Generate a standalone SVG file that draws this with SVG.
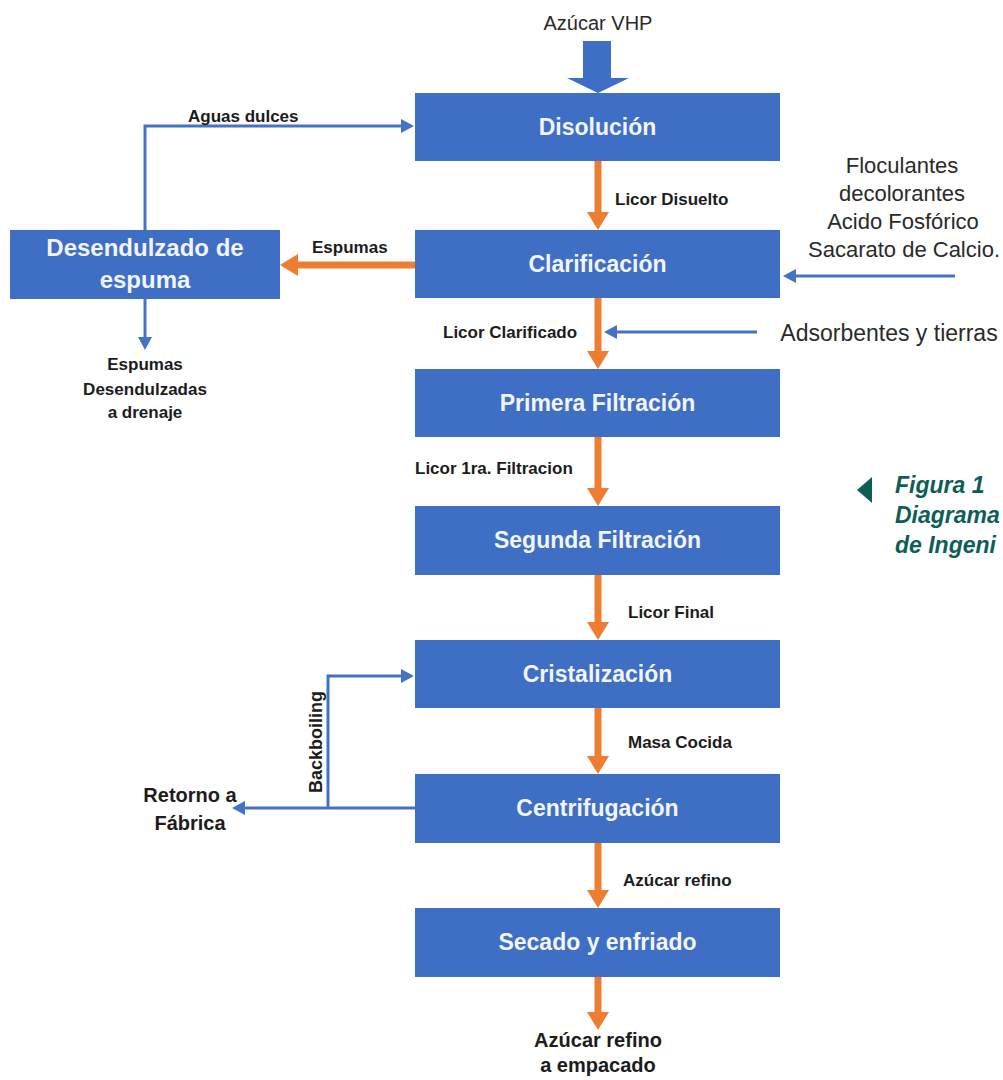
<svg xmlns="http://www.w3.org/2000/svg" width="1003" height="1080" viewBox="0 0 1003 1080">
  <defs>
    <style>
      .box { fill: #3F6EC5; }
      .boxtxt { font-family: "Liberation Sans", Arial, sans-serif; font-weight: bold; font-size: 23px; fill: #F2F5FB; text-anchor: middle; }
      .lbl { font-family: "Liberation Sans", Arial, sans-serif; font-weight: bold; font-size: 17px; fill: #1C1C1C; }
      .big { font-family: "Liberation Sans", Arial, sans-serif; font-weight: bold; font-size: 20px; fill: #1C1C1C; text-anchor: middle; }
      .reg { font-family: "Liberation Sans", Arial, sans-serif; font-size: 22px; fill: #2A2A2A; text-anchor: middle; }
      .flow { stroke: #ED7D31; stroke-width: 7; fill: none; }
      .feed { stroke: #4472C4; stroke-width: 3; fill: none; }
      .cap { font-family: "Liberation Sans", Arial, sans-serif; font-weight: bold; font-style: italic; font-size: 23px; fill: #0E5E57; }
    </style>
    <marker id="headOrange" markerUnits="userSpaceOnUse" markerWidth="20" markerHeight="22" refX="6" refY="11" orient="auto" viewBox="0 0 20 22">
      <path d="M0,0 L18,11 L0,22 z" fill="#ED7D31"/>
    </marker>
    <marker id="headBlue" markerUnits="userSpaceOnUse" markerWidth="14" markerHeight="14" refX="4" refY="7" orient="auto" viewBox="0 0 14 14">
      <path d="M0,0 L13,7 L0,14 z" fill="#4472C4"/>
    </marker>
  </defs>

  <rect width="1003" height="1080" fill="#FFFFFF"/>

  <!-- connectors -->
  <g id="connectors">
    <!-- main process flow -->
    <path class="flow" d="M598,161 V218" marker-end="url(#headOrange)"/>
    <path class="flow" d="M598,298 V357" marker-end="url(#headOrange)"/>
    <path class="flow" d="M598,437 V494" marker-end="url(#headOrange)"/>
    <path class="flow" d="M598,575 V628" marker-end="url(#headOrange)"/>
    <path class="flow" d="M598,708 V762" marker-end="url(#headOrange)"/>
    <path class="flow" d="M598,843 V896" marker-end="url(#headOrange)"/>
    <path class="flow" d="M598,977 V1018" marker-end="url(#headOrange)"/>
    <!-- foam to sweetening-off -->
    <path class="flow" d="M415,265 H292" marker-end="url(#headOrange)"/>
    <!-- sweet water back to dissolution -->
    <path class="feed" d="M145,230 V126 H405" marker-end="url(#headBlue)"/>
    <!-- drained foam -->
    <path class="feed" d="M145,299 V341" marker-end="url(#headBlue)"/>
    <!-- chemicals to clarification -->
    <path class="feed" d="M955,276 H792" marker-end="url(#headBlue)"/>
    <!-- adsorbents into clarified liquor -->
    <path class="feed" d="M757,332 H613" marker-end="url(#headBlue)"/>
    <!-- centrifuge outlet: return and backboiling -->
    <path class="feed" d="M415,808 H241" marker-end="url(#headBlue)"/>
    <path class="feed" d="M328,808 V676 H405" marker-end="url(#headBlue)"/>
    <!-- raw sugar feed block arrow -->
    <polygon points="583,41 611,41 611,78 629,78 598,93 567,78 583,78" fill="#3F6EC5"/>
  </g>

  <!-- process nodes -->
  <g id="disolucion">
    <rect class="box" x="415" y="93" width="365" height="68"/>
    <text class="boxtxt" x="597.5" y="135">Disolución</text>
  </g>
  <g id="clarificacion">
    <rect class="box" x="415" y="230" width="365" height="68"/>
    <text class="boxtxt" x="597.5" y="272">Clarificación</text>
  </g>
  <g id="primera-filtracion">
    <rect class="box" x="415" y="369" width="365" height="68"/>
    <text class="boxtxt" x="597.5" y="411">Primera Filtración</text>
  </g>
  <g id="segunda-filtracion">
    <rect class="box" x="415" y="506" width="365" height="69"/>
    <text class="boxtxt" x="597.5" y="548">Segunda Filtración</text>
  </g>
  <g id="cristalizacion">
    <rect class="box" x="415" y="640" width="365" height="68"/>
    <text class="boxtxt" x="597.5" y="682">Cristalización</text>
  </g>
  <g id="centrifugacion">
    <rect class="box" x="415" y="774" width="365" height="69"/>
    <text class="boxtxt" x="597.5" y="816">Centrifugación</text>
  </g>
  <g id="secado">
    <rect class="box" x="415" y="908" width="365" height="69"/>
    <text class="boxtxt" x="597.5" y="950">Secado y enfriado</text>
  </g>
  <g id="desendulzado">
    <rect class="box" x="10" y="230" width="270" height="69"/>
    <text class="boxtxt" x="145" y="256" style="font-size:24px">Desendulzado de</text>
    <text class="boxtxt" x="145" y="288" style="font-size:24px">espuma</text>
  </g>

  <!-- stream labels -->
  <g id="labels">
    <text class="reg" x="598" y="30" style="font-size:20px">Azúcar VHP</text>
    <text class="lbl" x="188" y="122">Aguas dulces</text>
    <text class="lbl" x="312" y="253">Espumas</text>
    <text class="lbl" x="615" y="205">Licor Disuelto</text>
    <text class="lbl" x="443" y="338">Licor Clarificado</text>
    <text class="lbl" x="415" y="474">Licor 1ra. Filtracion</text>
    <text class="lbl" x="628" y="618">Licor Final</text>
    <text class="lbl" x="628" y="748">Masa Cocida</text>
    <text class="lbl" x="623" y="886">Azúcar refino</text>
    <text class="lbl" x="145" y="370" text-anchor="middle">Espumas</text>
    <text class="lbl" x="145" y="395" text-anchor="middle">Desendulzadas</text>
    <text class="lbl" x="145" y="418" text-anchor="middle">a drenaje</text>
    <text class="lbl" transform="translate(322,742) rotate(-90)" text-anchor="middle" style="font-size:18px">Backboiling</text>
    <text class="big" x="190" y="802">Retorno a</text>
    <text class="big" x="190" y="830">Fábrica</text>
    <text class="big" x="598" y="1047">Azúcar refino</text>
    <text class="big" x="598" y="1072">a empacado</text>
    <text class="reg" x="902" y="173">Floculantes</text>
    <text class="reg" x="902" y="201">decolorantes</text>
    <text class="reg" x="903" y="229">Acido Fosfórico</text>
    <text class="reg" x="904" y="257">Sacarato de Calcio.</text>
    <text class="reg" x="889" y="341" style="font-size:23px">Adsorbentes y tierras</text>
  </g>

  <!-- figure caption at the right margin -->
  <g id="caption">
    <polygon points="872,477 872,503 857,490" fill="#0E5E57"/>
    <text class="cap" x="895" y="493">Figura 1</text>
    <text class="cap" x="895" y="523">Diagrama</text>
    <text class="cap" x="895" y="553">de Ingeni</text>
  </g>
</svg>
